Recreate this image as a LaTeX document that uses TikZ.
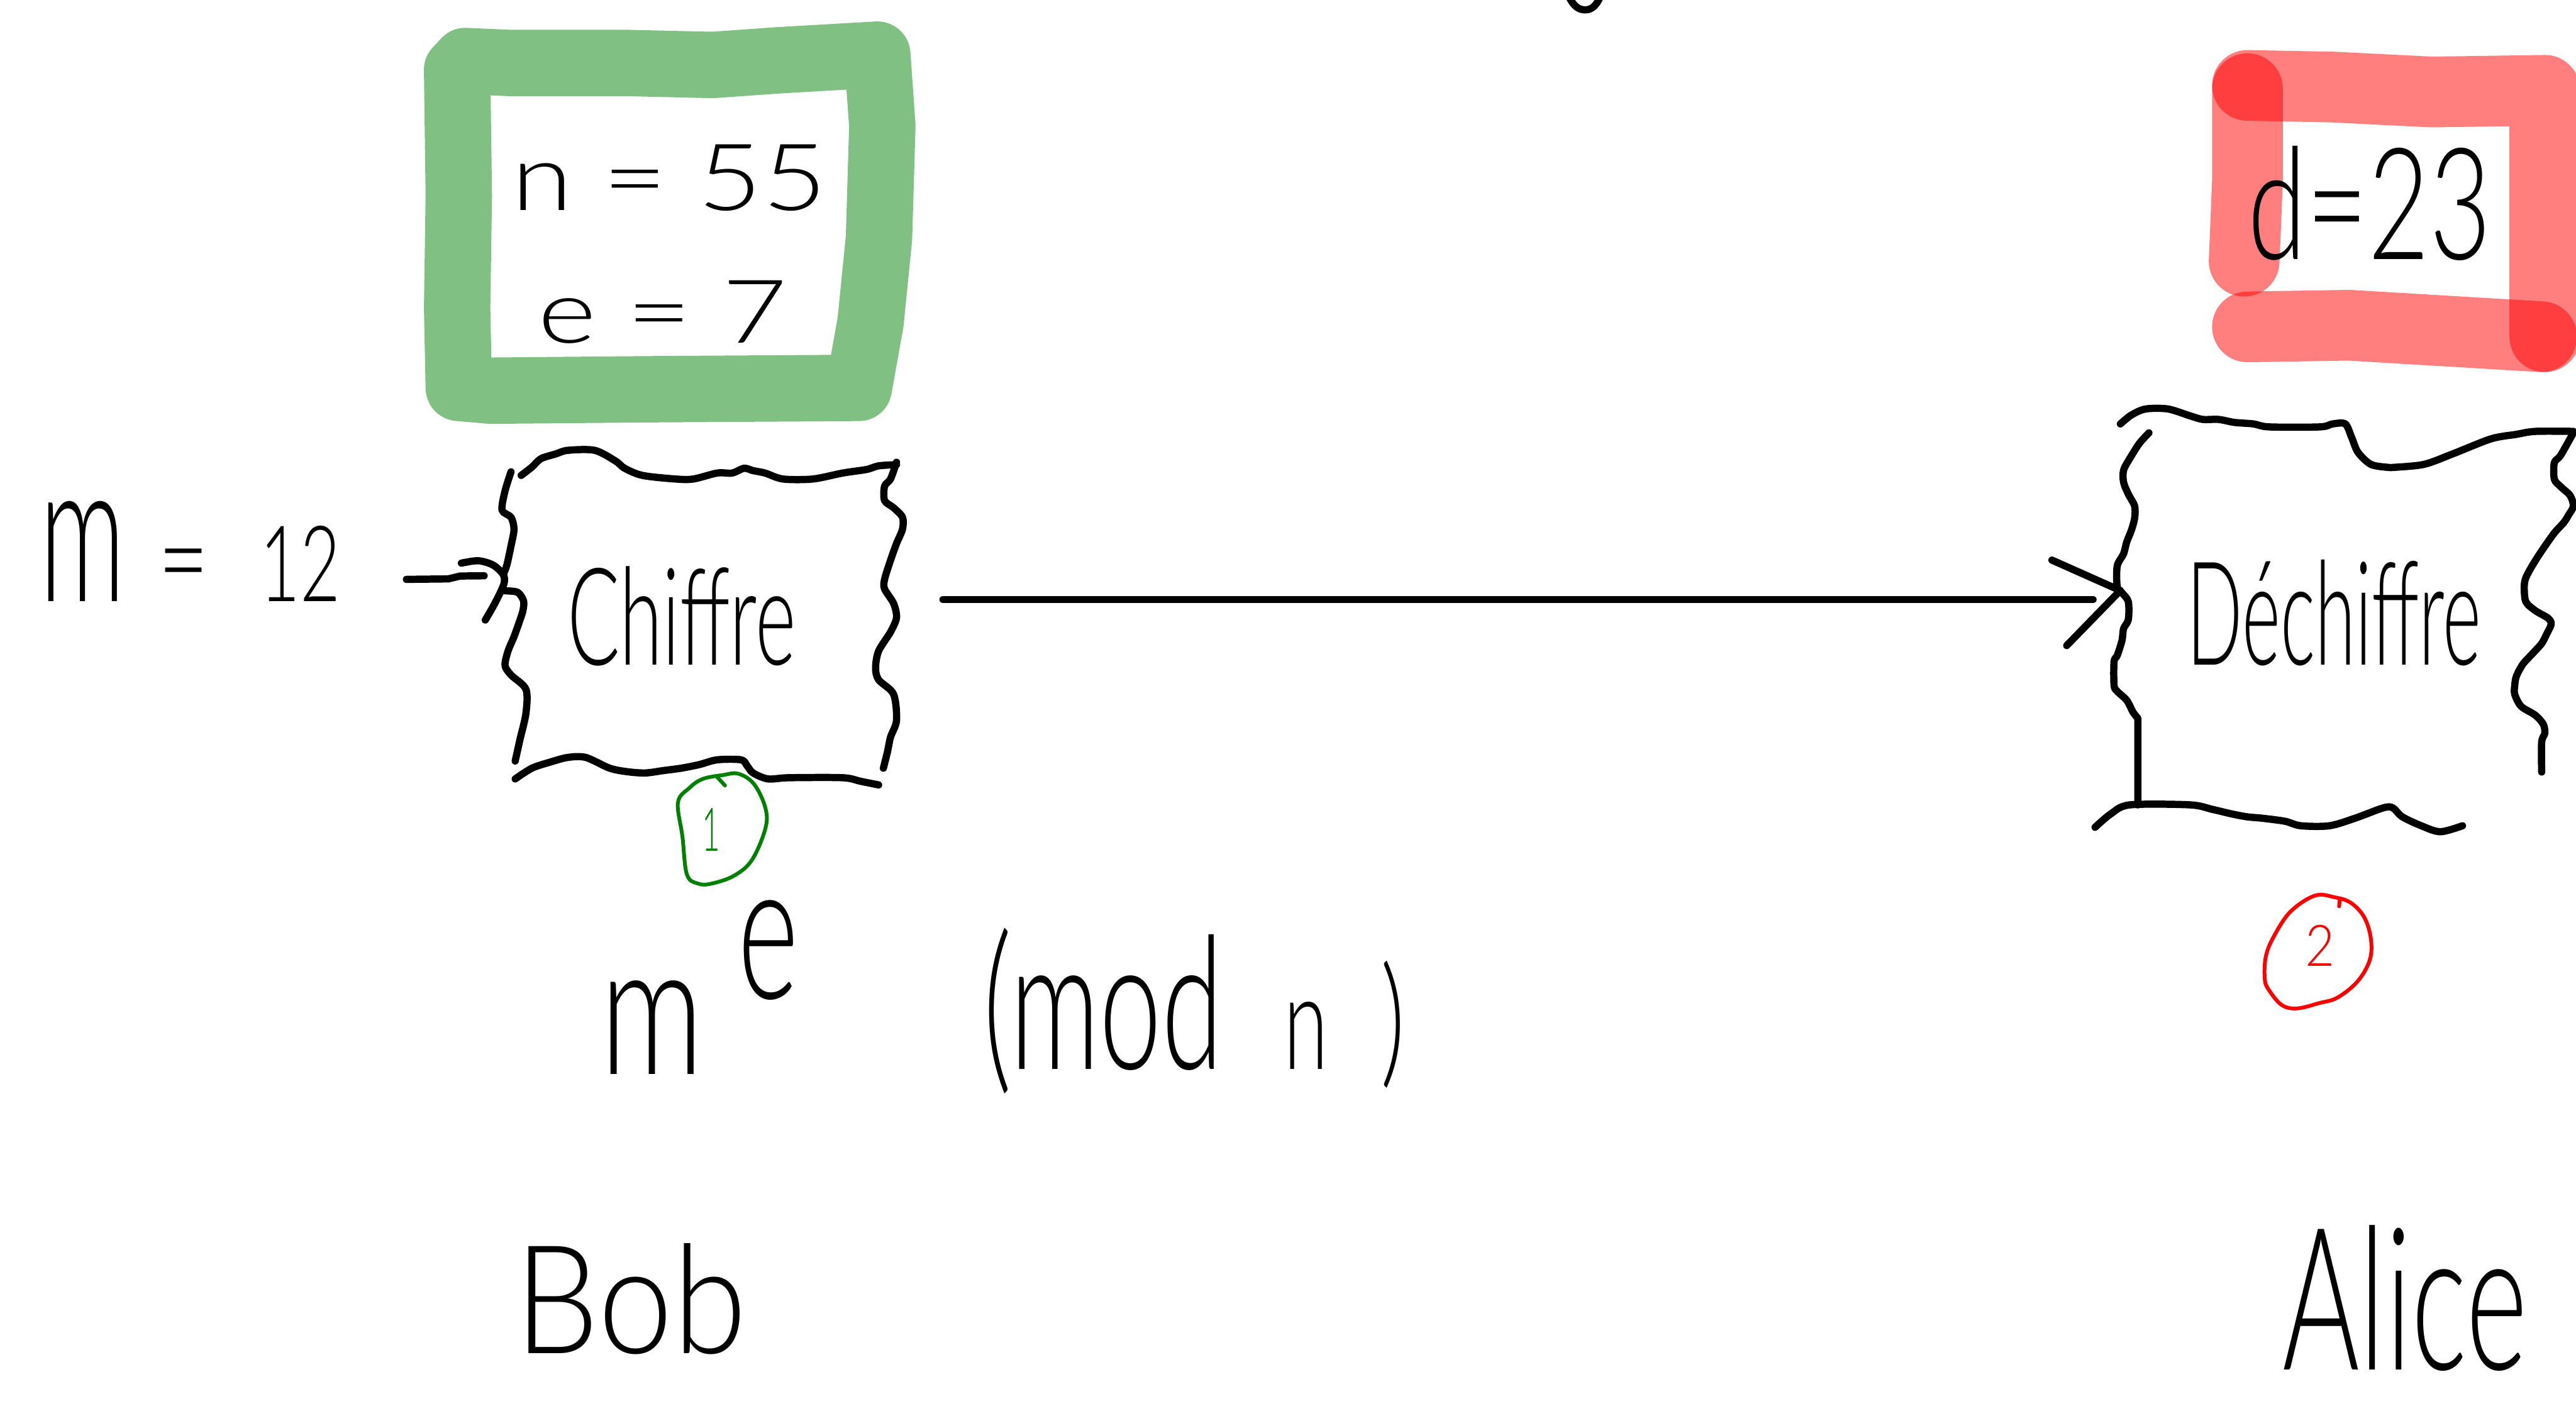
\documentclass[tikz,border=0pt]{standalone}
\usepackage{fontspec}
\usepackage{graphicx}
\IfFontExistsTF{Lato Light}{\newfontfamily\hand{Lato Light}}{\newfontfamily\hand{Lato}}
\newlength\pxu
\setlength\pxu{0.02cm}
\newcommand\hw[3]{\resizebox{#1\pxu}{#2\pxu}{\hand\fontsize{40}{40}\selectfont #3}}
\definecolor{hlgreen}{RGB}{129,192,131}
\definecolor{pengreen}{RGB}{0,128,0}
\tikzset{
  ink/.style={line width=2.5pt, line cap=round, line join=round},
  txt/.style={inner sep=0pt, anchor=base west},
  hlg/.style={draw=hlgreen, line width=23pt, line cap=round, line join=round},
  hlr/.style={draw=red, draw opacity=0.5, line width=24.5pt, line cap=round, line join=round},
  thinpen/.style={line width=1.3pt, line cap=round, line join=round},
}
\begin{document}
\begin{tikzpicture}[x=0.02cm, y=-0.02cm]
\useasboundingbox (0,0) rectangle (1568,859);

% fragment at top edge
\draw[ink] (955,-2) .. controls (958,4) and (961,6) .. (965,6) .. controls (969,6) and (972,3) .. (974,-2);

% green highlight frame
\begin{scope}[shift={(249.6,0)}, xscale=0.2046, yscale=0.1705]
\draw[hlg] (140,250) -- (165,218) -- (300,225) -- (650,225) -- (900,232) -- (1100,215) -- (1390,195)
  -- (1405,450) -- (1395,850) -- (1370,1150) -- (1335,1385) -- (700,1390) -- (240,1395) -- (145,1385)
  -- (140,1100) -- (145,700) -- cycle;
\end{scope}
\node[txt] (nval) at (311,128) {\hw{192}{40}{n = 55}};
\node[txt] (evalue) at (327,209) {\hw{152}{38}{e = 7}};

% red highlight frame
\draw[hlr] (1368,52) -- (1420,53) -- (1480,56) -- (1549,55) -- (1549,130) -- (1549,205);
\draw[hlr] (1368,54) -- (1368,110) -- (1366,159);
\draw[hlr] (1368,199) -- (1430,198) -- (1480,201) -- (1547,205);
\node[txt] (dval) at (1368,158) {\hw{148}{69}{d=23}};

% m = 12
\node[txt] (mval) at (24,366) {\hw{52}{61}{m}\hspace{20\pxu}\hw{31}{32}{=}\hspace{31\pxu}\hw{49}{46}{12}};

% Chiffre box
\begin{scope}[shift={(0,256.7)}, xscale=0.3638, yscale=0.1455]
\draw[ink] plot[smooth, tension=0.5] coordinates {(872,225) (890,190) (905,155) (930,135) (950,120) (995,120) (1030,165) (1045,195) (1075,225) (1130,240) (1160,240) (1200,215) (1225,215) (1245,195) (1260,205) (1280,215) (1310,240) (1360,240) (1410,215) (1450,200) (1470,185) (1500,180)};
\draw[ink] plot[smooth, tension=0.5] coordinates {(1500,170) (1490,240) (1480,270) (1480,330) (1495,360) (1510,400) (1510,450) (1500,510) (1490,580) (1480,660) (1480,700) (1495,760) (1500,820) (1490,880) (1470,960) (1465,1030) (1470,1080) (1495,1140) (1500,1250) (1490,1320) (1485,1380) (1478,1450)};
\draw[ink] plot[smooth, tension=0.5] coordinates {(855,210) (845,290) (840,370) (855,400) (860,450) (855,520) (848,600) (842,640)};
\draw[ink] plot[smooth, tension=0.5] coordinates {(845,708) (866,714) (876,750) (875,790) (870,830) (860,900) (850,960) (845,1020) (855,1060) (880,1120) (880,1220) (870,1330) (862,1420)};
\draw[ink] plot[smooth, tension=0.5] coordinates {(862,1495) (890,1450) (920,1425) (950,1405) (980,1405) (1020,1450) (1050,1465) (1080,1470) (1110,1460) (1140,1450) (1170,1435) (1200,1415) (1240,1415) (1250,1440) (1260,1470) (1285,1495) (1320,1490) (1410,1490) (1440,1505) (1470,1520)};
% input arrow
\coordinate (inS) at (680,660);
\coordinate (inT) at (810,645);
\draw[ink] (inS) -- (750,658) -- (770,646) -- (inT);
\draw[ink] plot[smooth, tension=0.5] coordinates {(772,592) (800,582) (825,600) (842,640) (843,680) (828,760) (812,830)};
\end{scope}
\node[txt] (chtext) at (345,405) {\hw{139}{60}{Chiffre}};

% green circled 1
\begin{scope}[shift={(392.2,445.6)}, xscale=0.2728, yscale=0.1592]
\draw[thinpen, pengreen] plot[smooth cycle, tension=0.6] coordinates {(130,180) (100,215) (75,270) (85,400) (95,545) (120,580) (150,580) (200,550) (240,490) (270,370) (270,290) (245,200) (210,160) (175,165)};
\draw[thinpen, pengreen] (160,168) -- (180,205);
\end{scope}
\node[txt, text=pengreen] (one) at (427,518) {\hw{11}{26}{1}};

% long arrow
\coordinate (arrS) at (574,365);
\coordinate (arrT) at (1274,365);
\coordinate (tip) at (1290.6,359.5);
\coordinate (hA) at (1249,341);
\coordinate (hB) at (1258,393);
\draw[ink] (arrS) -- (arrT);
\draw[ink] (hA) -- (tip) -- (hB);

% Dechiffre box
\begin{scope}[shift={(1265.6,231.7)}, xscale=0.1928, yscale=0.1819]
\draw[ink] plot[smooth, tension=0.5] coordinates {(130,145) (165,115) (210,95) (280,95) (350,118) (390,130) (440,130) (490,140) (550,145) (600,155) (760,155) (800,145) (840,145) (860,190) (880,240) (920,280) (970,290) (1000,290) (1090,280) (1180,245) (1300,195) (1380,180) (1440,170) (1560,170)};
\draw[ink] plot[smooth, tension=0.5] coordinates {(220,175) (190,210) (160,260) (140,300) (140,340) (155,380) (175,420) (175,460) (165,500) (150,540) (140,580) (120,620) (120,690) (135,710) (155,740) (155,800) (140,830) (135,870) (120,920) (110,940) (110,1020) (120,1040) (150,1070) (170,1110) (185,1130)} -- (185,1420);
\draw[ink] plot[smooth, tension=0.5] coordinates {(50,1495) (100,1450) (160,1420) (350,1420) (420,1435) (480,1450) (530,1460) (580,1465) (650,1475) (700,1490) (790,1490) (870,1465) (960,1430) (990,1430) (1020,1460) (1080,1490) (1140,1510) (1210,1490)};
\draw[ink] plot[smooth, tension=0.5] coordinates {(1560,175) (1520,250) (1500,275) (1500,330) (1520,355) (1550,385) (1560,420) (1545,450) (1530,475) (1500,510) (1460,570) (1430,620) (1410,660) (1405,690) (1410,740) (1440,770) (1480,795) (1490,815) (1475,850) (1460,880) (1430,915) (1400,950) (1380,990) (1375,1020) (1375,1050) (1395,1090) (1440,1120) (1465,1150) (1470,1180) (1460,1210) (1460,1310)};
\end{scope}
\node[txt] (dechtext) at (1331,405) {\hw{179}{64}{Déchiffre}};

% red circled 2
\begin{scope}[shift={(1354.7,516.9)}, xscale=0.136, yscale=0.218]
\draw[thinpen, red] plot[smooth cycle, tension=0.6] coordinates {(180,300) (215,245) (290,175) (400,130) (490,135) (560,150) (620,190) (650,250) (645,310) (590,370) (500,415) (420,430) (320,445) (250,435) (190,390) (175,360)};
\draw[thinpen, red] (510,145) -- (508,160);
\end{scope}
\node[txt, text=red] (two) at (1403,588) {\hw{18}{25}{2}};

% formula
\node[txt] (mexp) at (365,654) {\hw{63}{57}{m}\hspace{21\pxu}\raisebox{46\pxu}{\hw{37}{60}{e}}};
\node[txt] (modn) at (598,651) {\hw{146}{86}{(mod}\hspace{37\pxu}\hw{27}{41}{n}\hspace{32\pxu}\hw{15}{66}{)}};

% names
\node[txt] (bob) at (313,824) {\hw{141}{67}{Bob}};
\node[txt] (alice) at (1389,834) {\hw{149}{88}{Alice}};
\end{tikzpicture}
\end{document}
